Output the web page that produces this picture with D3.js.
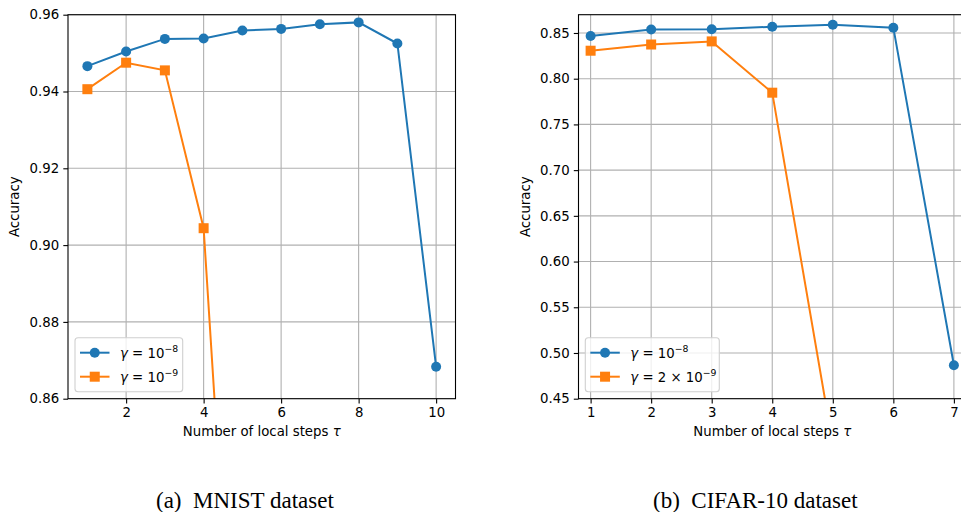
<!DOCTYPE html>
<html>
<head>
<meta charset="utf-8">
<script src="https://cdn.jsdelivr.net/npm/d3@7"></script>
<style>
  html, body { margin: 0; padding: 0; background: #fff; }
  svg { display: block; }
</style>
</head>
<body>
<svg id="chart" width="961" height="512"></svg>
<script>
// ---------------- DATA ----------------
const mnistSteps = [1, 2, 3, 4, 5, 6, 7, 8, 9, 10];
const mnistGamma1e8 = [0.9466, 0.9504, 0.9537, 0.9538, 0.9559, 0.9563, 0.9575, 0.9580, 0.9525, 0.8683];
const mnistStepsB = [1, 2, 3, 4, 5];
const mnistGamma1e9 = [0.9406, 0.9475, 0.9455, 0.9044, 0.746];
const mnistXTicks = [2, 4, 6, 8, 10];
const mnistYTicks = [0.86, 0.88, 0.90, 0.92, 0.94, 0.96];

const cifarSteps = [1, 2, 3, 4, 5, 6, 7];
const cifarGamma1e8 = [0.8467, 0.8539, 0.8540, 0.8568, 0.8590, 0.8558, 0.4866];
const cifarStepsB = [1, 2, 3, 4, 5];
const cifarGamma2e9 = [0.8306, 0.8374, 0.8408, 0.7847, 0.40];
const cifarXTicks = [1, 2, 3, 4, 5, 6, 7];
const cifarYTicks = [0.45, 0.50, 0.55, 0.60, 0.65, 0.70, 0.75, 0.80, 0.85];

const xLabel = "Number of local steps ";
const yLabel = "Accuracy";
const captions = ["(a)  MNIST dataset", "(b)  CIFAR-10 dataset"];
const blue = "#1f77b4", orange = "#ff7f0e";

// ---------------- DRAWING ----------------
const svg = d3.select("#chart");
const FONT = "DejaVu Sans, sans-serif";
const FS = 13.3;

const panels = [
  { id: "a", left: 68, top: 14.7, width: 387.5, height: 384,
    xDom: [0.5, 10.5], yDom: [0.86, 0.96], xTicks: mnistXTicks, yTicks: mnistYTicks,
    series: [
      { x: mnistSteps, y: mnistGamma1e8, color: blue, marker: "circle", label: ["", "10", "−8"] },
      { x: mnistStepsB, y: mnistGamma1e9, color: orange, marker: "square", label: ["", "10", "−9"] }
    ],
    legend: { x: 75, y: 337.7, w: 107.7, h: 54 },
    yLabelX: 18.5, caption: captions[0], captionX: 156 },
  { id: "b", left: 578.5, top: 14.7, width: 387.5, height: 384,
    xDom: [0.8, 7.2], yDom: [0.45, 0.87], xTicks: cifarXTicks, yTicks: cifarYTicks,
    series: [
      { x: cifarSteps, y: cifarGamma1e8, color: blue, marker: "circle", label: ["", "10", "−8"] },
      { x: cifarStepsB, y: cifarGamma2e9, color: orange, marker: "square", label: ["2 × ", "10", "−9"] }
    ],
    legend: { x: 585.3, y: 337.7, w: 134, h: 54 },
    yLabelX: 529.5, caption: captions[1], captionX: 653 }
];

panels.forEach(p => {
  const x = d3.scaleLinear().domain(p.xDom).range([p.left, p.left + p.width]);
  const y = d3.scaleLinear().domain(p.yDom).range([p.top + p.height, p.top]);
  const g = svg.append("g");

  const clipId = "clip-" + p.id;
  g.append("clipPath").attr("id", clipId).append("rect")
    .attr("x", p.left).attr("y", p.top).attr("width", p.width).attr("height", p.height);

  // grid
  const grid = g.append("g").attr("clip-path", `url(#${clipId})`);
  grid.selectAll("line.gx").data(p.xTicks).join("line")
    .attr("x1", d => x(d)).attr("x2", d => x(d))
    .attr("y1", p.top).attr("y2", p.top + p.height)
    .attr("stroke", "#b0b0b0").attr("stroke-width", 1.1);
  grid.selectAll("line.gy").data(p.yTicks).join("line")
    .attr("x1", p.left).attr("x2", p.left + p.width)
    .attr("y1", d => y(d)).attr("y2", d => y(d))
    .attr("stroke", "#b0b0b0").attr("stroke-width", 1.1);

  // axes
  const xAxis = d3.axisBottom(x).tickValues(p.xTicks).tickSize(4.7).tickPadding(4.2)
    .tickFormat(d3.format("d"));
  const yAxis = d3.axisLeft(y).tickValues(p.yTicks).tickSize(4.7).tickPadding(4.2)
    .tickFormat(d3.format(".2f"));
  const gx = g.append("g").attr("transform", `translate(0,${p.top + p.height})`).call(xAxis);
  const gy = g.append("g").attr("transform", `translate(${p.left},0)`).call(yAxis);
  [gx, gy].forEach(ax => {
    ax.select(".domain").remove();
    ax.selectAll("line").attr("stroke", "#000").attr("stroke-width", 1.1);
    ax.selectAll("text").attr("font-family", FONT).attr("font-size", FS).attr("fill", "#000");
  });

  // data
  const plot = g.append("g").attr("clip-path", `url(#${clipId})`);
  p.series.forEach(s => {
    const pts = s.x.map((v, i) => [v, s.y[i]]);
    plot.append("path").datum(pts)
      .attr("d", d3.line().x(d => x(d[0])).y(d => y(d[1])))
      .attr("fill", "none").attr("stroke", s.color).attr("stroke-width", 2);
    if (s.marker === "circle") {
      plot.selectAll(null).data(pts).join("circle")
        .attr("cx", d => x(d[0])).attr("cy", d => y(d[1])).attr("r", 5)
        .attr("fill", s.color);
    } else {
      plot.selectAll(null).data(pts).join("rect")
        .attr("x", d => x(d[0]) - 5).attr("y", d => y(d[1]) - 5)
        .attr("width", 10).attr("height", 10).attr("fill", s.color);
    }
  });

  // spines
  g.append("rect").attr("x", p.left).attr("y", p.top)
    .attr("width", p.width).attr("height", p.height)
    .attr("fill", "none").attr("stroke", "#000").attr("stroke-width", 1.1);

  // legend
  const L = p.legend;
  const lg = g.append("g");
  lg.append("rect").attr("x", L.x).attr("y", L.y).attr("width", L.w).attr("height", L.h)
    .attr("rx", 3).attr("fill", "#fff").attr("fill-opacity", 0.8)
    .attr("stroke", "#d0d0d0").attr("stroke-width", 1.1);
  p.series.forEach((s, i) => {
    const cy = L.y + 15 + i * 24;
    const lx0 = L.x + 5, lx1 = L.x + 34.5, mx = (lx0 + lx1) / 2;
    lg.append("line").attr("x1", lx0).attr("x2", lx1).attr("y1", cy).attr("y2", cy)
      .attr("stroke", s.color).attr("stroke-width", 2);
    if (s.marker === "circle") {
      lg.append("circle").attr("cx", mx).attr("cy", cy).attr("r", 5).attr("fill", s.color);
    } else {
      lg.append("rect").attr("x", mx - 5).attr("y", cy - 5).attr("width", 10).attr("height", 10)
        .attr("fill", s.color);
    }
    const t = lg.append("text").attr("x", L.x + 45).attr("y", cy + 5)
      .attr("font-family", FONT).attr("font-size", FS).attr("fill", "#000");
    t.append("tspan").attr("font-style", "italic").text("γ");
    t.append("tspan").text(" = " + s.label[0] + s.label[1]);
    t.append("tspan").attr("font-size", FS * 0.7).attr("dy", -6).text(s.label[2]);
  });

  // axis labels
  const xl = g.append("text")
    .attr("x", p.left + p.width / 2).attr("y", 435.5)
    .attr("text-anchor", "middle").attr("font-family", FONT).attr("font-size", FS)
    .attr("fill", "#000");
  xl.append("tspan").text(xLabel);
  xl.append("tspan").attr("font-style", "italic").text("τ");

  g.append("text")
    .attr("transform", `translate(${p.yLabelX},${p.top + p.height / 2}) rotate(-90)`)
    .attr("text-anchor", "middle").attr("font-family", FONT).attr("font-size", FS)
    .attr("fill", "#000").text(yLabel);

  // caption
  g.append("text").attr("x", p.captionX).attr("y", 507.5)
    .attr("font-family", "Liberation Serif, Times New Roman, serif").attr("font-size", 23)
    .attr("fill", "#000").attr("xml:space", "preserve").style("white-space", "pre")
    .text(p.caption);
});
</script>
</body>
</html>
